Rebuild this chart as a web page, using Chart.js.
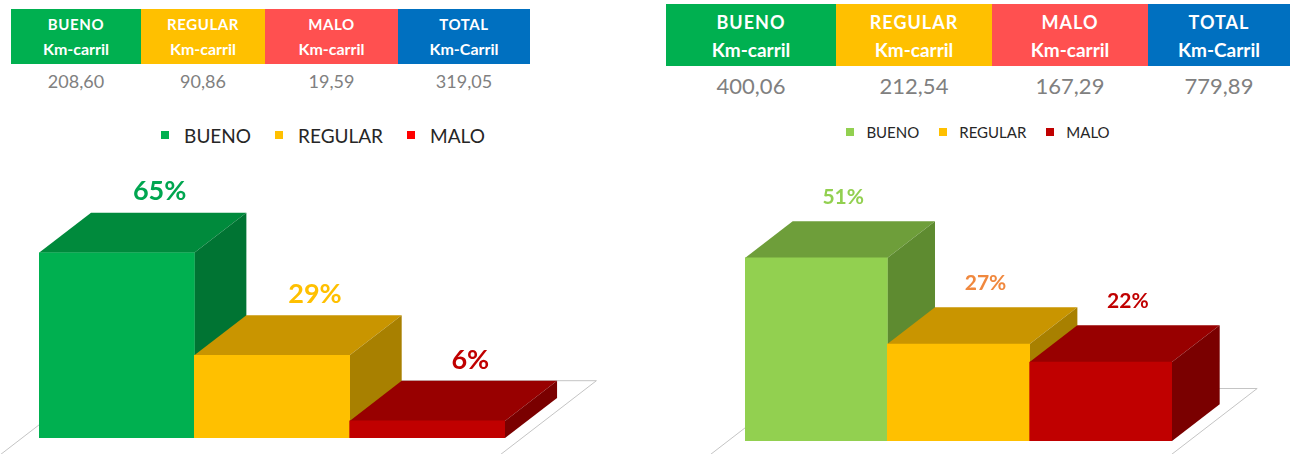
<!DOCTYPE html>
<html lang="es">
<head>
<meta charset="utf-8">
<title>Estado de la red vial</title>
<script src="https://cdn.jsdelivr.net/npm/chart.js@4.4.1/dist/chart.umd.min.js"></script>
<style>
  html, body { margin: 0; padding: 0; background: #fff; }
  body { width: 1293px; height: 454px; position: relative; overflow: hidden; font-family: Lato, "Open Sans", sans-serif; }
  canvas { position: absolute; top: 0; pointer-events: none; }
  .tbl { position: absolute; display: flex; }
  .tbl .col { display: flex; flex-direction: column; align-items: center; }
  .tbl .head { width: 100%; display: flex; flex-direction: column; align-items: center; justify-content: center; color: #fff; font-weight: 700; }
  .tbl .val { color: #808080; }
  .legend { position: absolute; display: flex; justify-content: center; align-items: center; color: #262626; }
  .legend .item { display: flex; align-items: center; }
  .legend .sw { display: inline-block; }
</style>
</head>
<body>
<div id="tableA" class="tbl" style="left:11px; top:9px;"></div>
<div id="tableB" class="tbl" style="left:666px; top:4px;"></div>
<div id="legendA" class="legend" style="left:0; width:646px; top:124px; height:22px;"></div>
<div id="legendB" class="legend" style="left:666px; width:624px; top:123px; height:18px;"></div>
<canvas id="chartA" width="646" height="454" style="left:0"></canvas>
<canvas id="chartB" width="647" height="454" style="left:646px"></canvas>
<script>
// ==================== DATA ====================
const categories = ["BUENO", "REGULAR", "MALO"];
const headerTotal = "TOTAL";

// Panel izquierdo
const kmA = [208.6, 90.86, 19.59];
const totalA = 319.05;
const pctA = [65, 29, 6];

// Panel derecho
const kmB = [400.06, 212.54, 167.29];
const totalB = 779.89;
const pctB = [51, 27, 22];

// Colores
const headColors = ["#00b050", "#ffc000", "#ff5050", "#0070c0"];
const frontA = ["#00b050", "#ffc000", "#c00000"];
const topA = ["#008a3c", "#c99500", "#980000"];
const sideA = ["#007433", "#a88000", "#7a0000"];
const labelA = ["#00a650", "#ffc000", "#c00000"];
const legendA = ["#00b050", "#ffc000", "#ff0000"];

const frontB = ["#92d050", "#ffc000", "#c00000"];
const topB = ["#6e9e3a", "#c99500", "#980000"];
const sideB = ["#5e8b30", "#a88000", "#7a0000"];
const labelB = ["#92d050", "#f0883e", "#c00000"];
const legendB = ["#92d050", "#ffc000", "#c00000"];

function fmt(n) {
  return n.toFixed(2).replace(".", ",");
}

// ==================== TABLAS ====================
function buildTable(id, values, total, widths, headH, fHead, fSub, fVal, valTop, spacing) {
  const el = document.getElementById(id);
  const subs = ["Km-carril", "Km-carril", "Km-carril", "Km-Carril"];
  const heads = [...categories, headerTotal];
  const vals = [...values.map(fmt), fmt(total)];
  el.innerHTML = heads
    .map(
      (h, i) => `
    <div class="col" style="width:${widths[i]}px">
      <div class="head" style="height:${headH}px; background:${headColors[i]}">
        <div style="font-size:${fHead}px; line-height:${fHead + 10}px; letter-spacing:${spacing}px">${h}</div>
        <div style="font-size:${fSub}px; line-height:${fSub + 8}px">${subs[i]}</div>
      </div>
      <div class="val" style="font-size:${fVal}px; margin-top:${valTop}px">${vals[i]}</div>
    </div>`
    )
    .join("");
}

buildTable("tableA", kmA, totalA, [130, 124, 133, 132], 55, 15, 16, 18, 6, 0.6);
buildTable("tableB", kmB, totalB, [170, 156, 156, 142], 62, 18, 19, 22, 6, 1);

// ==================== LEYENDAS ====================
function buildLegend(id, colors, sq, font, gapText, gapItem) {
  const el = document.getElementById(id);
  el.innerHTML = categories
    .map(
      (c, i) => `
    <span class="item" style="margin:0 ${gapItem / 2}px">
      <span class="sw" style="width:${sq}px; height:${sq}px; background:${colors[i]}; margin-right:${gapText}px"></span>
      <span style="font-size:${font}px">${c}</span>
    </span>`
    )
    .join("");
}

buildLegend("legendA", legendA, 8, 19, 15, 24);
buildLegend("legendB", legendB, 8, 15, 12, 20);

// ==================== CAJAS 3D ====================
const box3d = {
  id: "box3d",
  beforeDatasetsDraw(chart, args, opts) {
    const ctx = chart.ctx;
    const meta = chart.getDatasetMeta(0);
    const base = chart.scales.y.getPixelForValue(0);
    const area = chart.chartArea;
    const w = meta.data[0].width;
    const dx = w * 0.335;
    const dy = dx * 0.77;
    const k = dx / dy;

    // piso
    const fdy = dy * 1.43;
    const l = area.left - 17;
    const r = area.right + 17;
    ctx.save();
    ctx.beginPath();
    ctx.moveTo(l + fdy * k, base - fdy);
    ctx.lineTo(r + fdy * k, base - fdy);
    ctx.lineTo(r - 80 * k, base + 80);
    ctx.lineTo(l - 80 * k, base + 80);
    ctx.closePath();
    ctx.fillStyle = "#ffffff";
    ctx.fill();
    ctx.strokeStyle = "#c4c4c4";
    ctx.lineWidth = 1;
    ctx.stroke();

    // caras superior y lateral
    meta.data.forEach((bar, i) => {
      const x0 = bar.x - bar.width / 2;
      const x1 = bar.x + bar.width / 2;
      const yt = bar.y;
      ctx.beginPath();
      ctx.moveTo(x0, yt);
      ctx.lineTo(x1, yt);
      ctx.lineTo(x1 + dx, yt - dy);
      ctx.lineTo(x0 + dx, yt - dy);
      ctx.closePath();
      ctx.fillStyle = opts.top[i];
      ctx.fill();

      ctx.beginPath();
      ctx.moveTo(x1, yt);
      ctx.lineTo(x1 + dx, yt - dy);
      ctx.lineTo(x1 + dx, base - dy);
      ctx.lineTo(x1, base);
      ctx.closePath();
      ctx.fillStyle = opts.side[i];
      ctx.fill();
    });
    ctx.restore();
  },
  afterDatasetsDraw(chart, args, opts) {
    const ctx = chart.ctx;
    const meta = chart.getDatasetMeta(0);
    const values = chart.data.datasets[0].data;
    ctx.save();
    ctx.font = `bold ${opts.fontSize}px Lato, sans-serif`;
    ctx.textAlign = "center";
    ctx.textBaseline = "middle";
    meta.data.forEach((bar, i) => {
      ctx.fillStyle = opts.labels[i];
      ctx.fillText(values[i] + "%", bar.x + opts.labelDx, bar.y - opts.labelDy);
    });
    ctx.restore();
  },
};

function makeChart(id, data, front, top, side, labels, padding, fontSize, labelDx) {
  return new Chart(document.getElementById(id), {
    type: "bar",
    data: {
      labels: categories,
      datasets: [
        {
          data: data,
          backgroundColor: front,
          borderWidth: 0,
          barPercentage: 1,
          categoryPercentage: 1,
        },
      ],
    },
    options: {
      responsive: false,
      animation: false,
      devicePixelRatio: 1,
      layout: { padding: padding },
      plugins: {
        legend: { display: false },
        tooltip: { enabled: false },
        box3d: {
          top: top,
          side: side,
          labels: labels,
          fontSize: fontSize,
          labelDx: labelDx,
          labelDy: 61,
        },
      },
      scales: {
        x: { display: false },
        y: { display: false, min: 0, max: 100 },
      },
    },
    plugins: [box3d],
  });
}

makeChart("chartA", pctA, frontA, topA, sideA, labelA, { left: 39, right: 141, top: 153, bottom: 16 }, 27, 43);
makeChart("chartB", pctB, frontB, topB, sideB, labelB, { left: 99, right: 121, top: 82, bottom: 13 }, 21, 27);
</script>
</body>
</html>
